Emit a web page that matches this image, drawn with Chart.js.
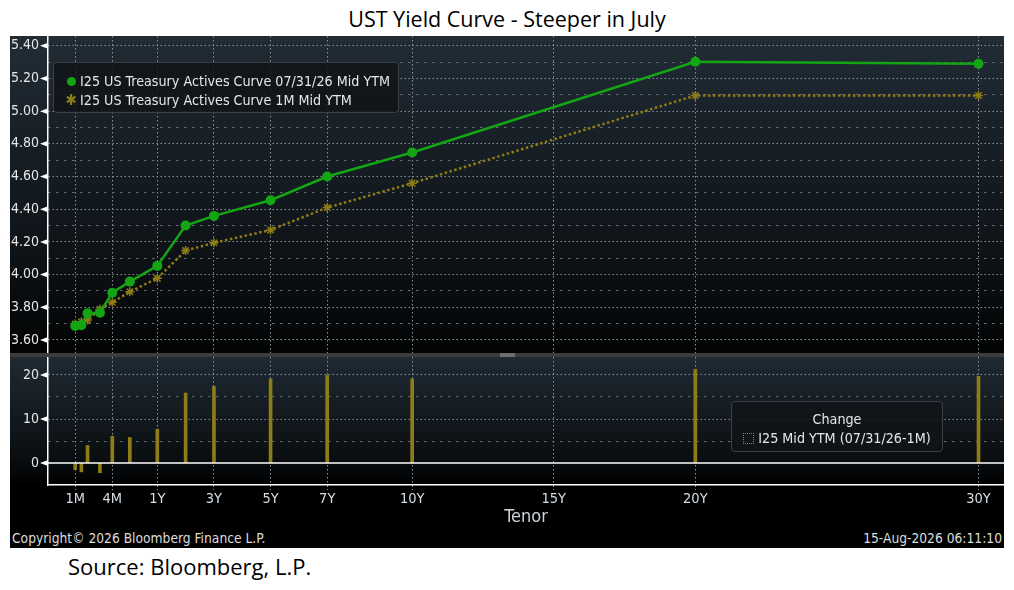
<!DOCTYPE html>
<html>
<head>
<meta charset="utf-8">
<script src="https://cdn.jsdelivr.net/npm/chart.js"></script>
<style>
  body { margin: 0; width: 1014px; height: 590px; background: #fff; position: relative; overflow: hidden; font-family: "Open Sans", sans-serif; }
  .bb { font-family: "DejaVu Sans Condensed", sans-serif; }
  #title { position: absolute; left: 0; top: 5px; width: 1014px; text-align: center; font-size: 21.5px; line-height: 28px; color: #000; }
  #panel { position: absolute; left: 10px; top: 36px; width: 994px; height: 512px; background: #000; }
  #topChart { position: absolute; left: 10px; top: 36px; background: linear-gradient(#212c35, #0d1216 70%, #020303); }
  #sep { position: absolute; left: 10px; top: 353px; width: 994px; height: 4px; background: #3c3c3c; }
  #grip { position: absolute; left: 490px; top: 0; width: 15px; height: 4px; background: #6e6e6e; }
  #lowChart { position: absolute; left: 10px; top: 357px; background: linear-gradient(#1f2a33 0px, #0a0e11 100px, #000 128px); }
  .legend { position: absolute; background: rgba(16, 20, 24, 0.85); border: 1px solid #3b4046; border-radius: 4px; color: #e6e6e6; font-size: 14.2px; box-sizing: border-box; }
  #legendTop { left: 53px; top: 62px; width: 346px; height: 51px; padding: 9px 0 0 10px; }
  #legendLow { left: 731px; top: 401px; width: 212px; height: 51px; text-align: center; padding-top: 8px; }
  .row { height: 19px; line-height: 19px; white-space: nowrap; }
  .mark { display: inline-block; width: 14px; text-align: center; margin-right: 2px; }
  .dot { display: inline-block; width: 9px; height: 9px; border-radius: 50%; }
  .sq { display: inline-block; width: 9px; height: 9px; border: 1px dotted #9a8718; margin-right: 4px; vertical-align: -1px; }
  #copy { position: absolute; left: 12px; top: 530px; font-size: 13.7px; line-height: 16px; color: #dcdcdc; }
  #stamp { position: absolute; right: 12px; top: 530px; font-size: 13.7px; line-height: 16px; color: #dcdcdc; }
  #source { position: absolute; left: 68px; top: 552px; font-size: 22px; line-height: 28px; color: #000; }
</style>
</head>
<body>
<div id="title">UST Yield Curve - Steeper in July</div>
<div id="panel"></div>
<canvas id="topChart" width="994" height="317"></canvas>
<div id="sep"><div id="grip"></div></div>
<canvas id="lowChart" width="994" height="171"></canvas>
<div id="legendTop" class="legend bb"></div>
<div id="legendLow" class="legend bb"></div>
<div id="copy" class="bb">Copyright© 2026 Bloomberg Finance L.P.</div>
<div id="stamp" class="bb">15-Aug-2026 06:11:10</div>
<div id="source">Source: Bloomberg, L.P.</div>
<script>
// tenors on the curve and their length in years
const tenors = ["1M", "1.5M", "2M", "3M", "4M", "6M", "1Y", "2Y", "3Y", "5Y", "7Y", "10Y", "20Y", "30Y"];
const tenorYears = [1/12, 1.5/12, 2/12, 3/12, 4/12, 6/12, 1, 2, 3, 5, 7, 10, 20, 30];

// yields, %
const curveJul31 = [3.685, 3.69, 3.763, 3.767, 3.889, 3.957, 4.053, 4.30, 4.359, 4.455, 4.60, 4.747, 5.302, 5.29];
const curve1M = [3.698, 3.712, 3.722, 3.788, 3.83, 3.895, 3.977, 4.147, 4.194, 4.273, 4.41, 4.559, 5.096, 5.096];
// change, bp
const changeBp = [-1.5, -2.0, 4.0, -2.2, 6.1, 5.8, 7.7, 15.9, 17.4, 19.1, 19.9, 19.1, 21.3, 19.7];

const xTickLabels = ["1M", "4M", "1Y", "3Y", "5Y", "7Y", "10Y", "15Y", "20Y", "30Y"];
const xTickYears = [1/12, 4/12, 1, 3, 5, 7, 10, 15, 20, 30];

const label1 = "I25 US Treasury Actives Curve 07/31/26 Mid YTM";
const label2 = "I25 US Treasury Actives Curve 1M Mid YTM";
const label3 = "I25 Mid YTM (07/31/26-1M)";

// Bloomberg tenor axis: stretched below 1Y, plain years above
const shortKnots = [[1/12, -1.9], [4/12, -0.59], [6/12, 0.03], [1, 1]];
function tenorAxis(t) {
  if (t >= 1) return t;
  for (let i = 1; i < shortKnots.length; i++) {
    const [t0, u0] = shortKnots[i - 1], [t1, u1] = shortKnots[i];
    if (t <= t1) return u0 + (t - t0) * (u1 - u0) / (t1 - t0);
  }
  return shortKnots[0][1];
}

const green = "#14a514";
const gold = "#8e7d16";
const gridCol = "#8a9096";
const minorCol = "#666c72";
const bbFont = "'DejaVu Sans Condensed', sans-serif";
const X_MIN = -2.86, X_MAX = 30.9;

const pts = (vals) => tenorYears.map((t, i) => ({ x: tenorAxis(t), y: vals[i] }));

function xScale(showLabels) {
  return {
    type: "linear", min: X_MIN, max: X_MAX, offset: false,
    afterBuildTicks: (s) => { s.ticks = xTickYears.map(t => ({ value: tenorAxis(t) })); },
    ticks: {
      display: showLabels, autoSkip: false, maxRotation: 0, padding: 1,
      color: "#d5dde6", font: { family: bbFont, size: 14.5 },
      callback: (v, i) => xTickLabels[i]
    },
    grid: { color: gridCol, lineWidth: 1, offset: false, drawTicks: showLabels, tickLength: 5, tickColor: gridCol, tickBorderDash: [1.5, 2] },
    border: { display: showLabels, color: "#ffffff", width: 1.5, dash: [1.5, 2.5] },
    title: { display: showLabels, text: "Tenor", color: "#c9d3de", font: { family: bbFont, size: 18 }, padding: 0 },
    afterFit: (s) => { s.height = showLabels ? 43 : 0; s.paddingLeft = 0; s.paddingRight = 0; }
  };
}

function yMajor(min, max, step, digits, zeroHidden) {
  return {
    position: "left", min: min, max: max,
    ticks: { stepSize: step, includeBounds: false, padding: 9, color: "#e6e6e6", font: { family: bbFont, size: 14 },
      callback: (v) => v.toFixed(digits) },
    grid: { drawTicks: false, lineWidth: 1, color: (c) => (zeroHidden && c.tick && Math.abs(c.tick.value) < 1e-9) ? "rgba(0,0,0,0)" : gridCol },
    border: { color: "#ffffff", width: 1.5, dash: [1.5, 2.5] },
    afterFit: (s) => { s.width = 38; s.paddingTop = 0; s.paddingBottom = 0; }
  };
}

function yMinor(min, max, step) {
  return {
    position: "left", min: min, max: max,
    ticks: { display: false, stepSize: step, includeBounds: false },
    grid: { drawTicks: false, lineWidth: 1, color: (c) => (c.tick && Math.round(c.tick.value / step) % 2 === 0) ? "rgba(0,0,0,0)" : minorCol },
    border: { display: false, dash: [2.5, 5.5] },
    afterFit: (s) => { s.width = 0; s.paddingTop = 0; s.paddingBottom = 0; }
  };
}

// little left-pointing arrows on the value axis
const tickArrows = {
  id: "tickArrows",
  afterDraw(chart) {
    const s = chart.scales.y, ctx = chart.ctx, x = s.right;
    ctx.save();
    ctx.fillStyle = "#ffffff";
    s.ticks.forEach(t => {
      const y = s.getPixelForValue(t.value);
      ctx.beginPath();
      ctx.moveTo(x, y - 3);
      ctx.lineTo(x, y + 3);
      ctx.lineTo(x - 8, y);
      ctx.closePath();
      ctx.fill();
    });
    ctx.restore();
  }
};

const zeroLine = {
  id: "zeroLine",
  afterDatasetsDraw(chart) {
    const y = chart.scales.y.getPixelForValue(0), a = chart.chartArea, ctx = chart.ctx;
    ctx.save();
    ctx.strokeStyle = "#ffffff";
    ctx.lineWidth = 1.5;
    ctx.beginPath();
    ctx.moveTo(a.left, y);
    ctx.lineTo(a.right, y);
    ctx.stroke();
    ctx.restore();
  }
};

const topChart = new Chart(document.getElementById("topChart"), {
  type: "line",
  data: {
    datasets: [
      { label: label1, data: pts(curveJul31), borderColor: green, backgroundColor: green, borderWidth: 2.5,
        pointRadius: 5, pointBorderWidth: 0, pointStyle: "circle" },
      { label: label2, data: pts(curve1M), borderColor: gold, backgroundColor: gold, borderWidth: 2.5, borderDash: [2.5, 2.5],
        pointRadius: 4.5, pointBorderWidth: 1.5, pointStyle: "star" }
    ]
  },
  options: {
    responsive: false, animation: false, devicePixelRatio: 1,
    layout: { padding: 0, autoPadding: false },
    plugins: { legend: { display: false }, tooltip: { enabled: false } },
    scales: { x: xScale(false), yMinor: yMinor(3.52, 5.46, 0.1), y: yMajor(3.52, 5.46, 0.2, 2, false) }
  },
  plugins: [tickArrows]
});

const lowChart = new Chart(document.getElementById("lowChart"), {
  type: "bar",
  data: {
    datasets: [
      { label: label3, data: pts(changeBp), backgroundColor: gold, barThickness: 3 }
    ]
  },
  options: {
    responsive: false, animation: false, devicePixelRatio: 1,
    layout: { padding: 0, autoPadding: false },
    plugins: { legend: { display: false }, tooltip: { enabled: false } },
    scales: { x: xScale(true), yMinor: yMinor(-4.98, 24.08, 5), y: yMajor(-4.98, 24.08, 10, 0, true) }
  },
  plugins: [tickArrows, zeroLine]
});

// legends built from the dataset labels
const lt = document.getElementById("legendTop");
topChart.data.datasets.forEach((d, i) => {
  const mark = i === 0
    ? '<span class="dot" style="background:' + d.borderColor + '"></span>'
    : '<span style="color:' + d.borderColor + ';font-size:15px">&#10033;</span>';
  lt.innerHTML += '<div class="row"><span class="mark">' + mark + '</span>' + d.label + '</div>';
});
const ll = document.getElementById("legendLow");
ll.innerHTML = '<div class="row">Change</div><div class="row"><span class="sq"></span>' + lowChart.data.datasets[0].label + '</div>';
</script>
</body>
</html>
